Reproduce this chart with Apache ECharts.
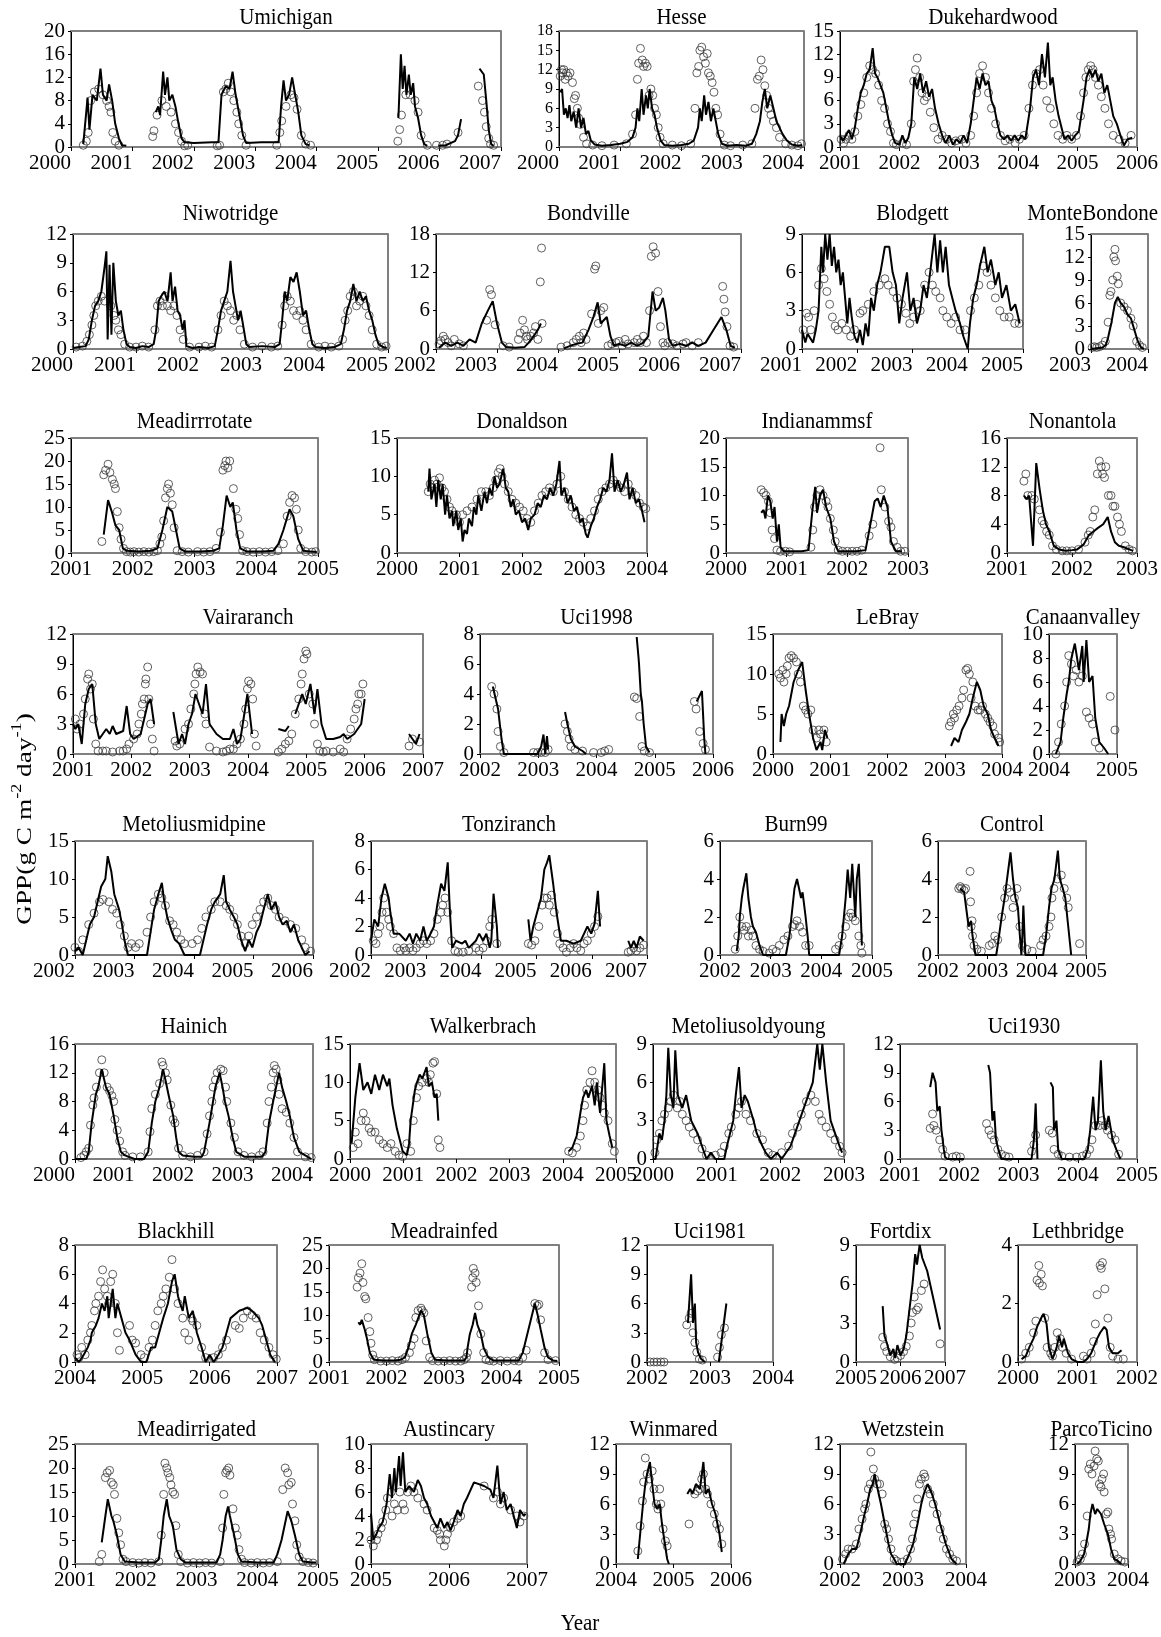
<!DOCTYPE html>
<html>
<head>
<meta charset="utf-8">
<script src="https://cdn.jsdelivr.net/npm/echarts@6/dist/echarts.min.js"></script>
<style>
  html, body { margin: 0; padding: 0; background: #fff; }
  #chart { width: 1161px; height: 1637px; }
</style>
</head>
<body>
<div id="chart"></div>
<script>
// ---- data: model line (xxxLine) and observed circles (xxxObs), [year, GPP] ----
var umichiganLine = [[2000.2,0.5],[2000.27,8.5],[2000.3,3],[2000.35,9],[2000.42,8],[2000.48,13.5],[2000.52,9],[2000.58,8],[2000.62,10.8],[2000.67,8],[2000.72,4],[2000.78,1.5],[2000.83,0.3],[2000.9,0.2],[2001.1,null],[2001.38,6],[2001.42,7],[2001.45,5.5],[2001.5,13],[2001.53,9],[2001.57,12],[2001.6,8],[2001.65,9],[2001.7,7],[2001.75,4],[2001.8,1.5],[2001.85,0.8],[2002.0,0.7],[2002.3,0.8],[2002.4,0.8],[2002.45,9],[2002.52,10.5],[2002.58,10],[2002.63,13],[2002.68,9],[2002.75,5],[2002.8,2],[2002.85,0.7],[2003.1,0.8],[2003.38,0.8],[2003.42,7],[2003.46,11.5],[2003.5,8],[2003.55,9],[2003.6,12],[2003.65,9],[2003.7,6],[2003.75,2],[2003.82,0.5],[2003.88,0.3],[2004.5,null],[2005.33,5],[2005.37,16],[2005.4,10],[2005.43,14],[2005.46,9],[2005.5,12.5],[2005.53,9],[2005.57,11],[2005.6,7],[2005.65,5],[2005.7,2],[2005.75,0.5],[2005.8,0.2],[2005.9,null],[2005.98,0.2],[2006.1,0.3],[2006.25,1],[2006.3,2],[2006.35,4.8],[2006.5,null],[2006.65,13.5],[2006.72,12.5],[2006.76,8],[2006.8,3],[2006.84,0.5],[2006.88,0.2]];
var umichiganObs = [[2000.2,0.3],[2000.25,1],[2000.28,2.5],[2000.32,8],[2000.38,9.5],[2000.45,10],[2000.52,9],[2000.58,8],[2000.62,7],[2000.65,6],[2000.68,2.5],[2000.72,1],[2000.78,0.3],[2001.33,1.8],[2001.35,2.8],[2001.4,5.5],[2001.48,8],[2001.55,7],[2001.63,6],[2001.7,4],[2001.75,2.5],[2001.8,1],[2001.85,0.2],[2001.9,0.3],[2002.38,0.2],[2002.42,0.3],[2002.48,9.5],[2002.52,10],[2002.56,11],[2002.6,9.5],[2002.65,8],[2002.7,6],[2002.73,4],[2002.78,2],[2002.85,0.3],[2003.35,0.3],[2003.4,2.5],[2003.43,4.5],[2003.5,7],[2003.58,9],[2003.63,8.5],[2003.68,6.5],[2003.75,2],[2003.82,0.5],[2003.9,0.3],[2005.32,1],[2005.35,3],[2005.38,5.5],[2005.45,9],[2005.52,9],[2005.6,8],[2005.65,6],[2005.7,2],[2005.8,0.3],[2005.95,0.3],[2006.05,0.3],[2006.12,0.5],[2006.3,2.5],[2006.63,10.5],[2006.7,8],[2006.73,6],[2006.76,3.5],[2006.8,1.5],[2006.83,0.5],[2006.88,0.3]];

var hesseLine = [[2000.02,8.5],[2000.05,9],[2000.08,5],[2000.11,6],[2000.14,4.5],[2000.17,6.5],[2000.2,4],[2000.24,5.5],[2000.28,3],[2000.32,6],[2000.36,3],[2000.4,4.5],[2000.44,2],[2000.48,2.5],[2000.52,1],[2000.58,0.4],[2000.7,0.2],[2000.85,0.3],[2001.0,0.5],[2001.12,0.8],[2001.2,1.5],[2001.25,3],[2001.28,6],[2001.31,4],[2001.35,9],[2001.38,5],[2001.42,8],[2001.45,6],[2001.48,9],[2001.52,6],[2001.56,5],[2001.6,3],[2001.66,1],[2001.72,0.3],[2001.85,0.2],[2002.0,0.3],[2002.12,0.5],[2002.2,1],[2002.27,3],[2002.3,6],[2002.33,4],[2002.37,8],[2002.4,5],[2002.44,7],[2002.48,4],[2002.52,6],[2002.56,4],[2002.6,2],[2002.66,0.5],[2002.75,0.2],[2002.9,0.3],[2003.05,0.2],[2003.15,0.5],[2003.22,2],[2003.28,4],[2003.32,7],[2003.36,9],[2003.4,6],[2003.45,8],[2003.5,6],[2003.55,4],[2003.6,3],[2003.65,2],[2003.72,1],[2003.8,0.4],[2003.9,0.2],[2003.97,0.3]];
var hesseObs = [[2000.02,11],[2000.04,12],[2000.06,11.5],[2000.08,12],[2000.1,10.5],[2000.12,11.5],[2000.15,11],[2000.18,11.5],[2000.22,10],[2000.25,7.5],[2000.27,8],[2000.3,6],[2000.32,4.5],[2000.35,3.5],[2000.4,1.5],[2000.45,0.5],[2000.55,0.3],[2000.7,0.2],[2000.9,0.3],[2001.1,0.5],[2001.2,2],[2001.25,5],[2001.28,10.5],[2001.3,13],[2001.33,15.3],[2001.36,13.5],[2001.38,12.5],[2001.41,13],[2001.44,12.5],[2001.47,8],[2001.5,9],[2001.53,8],[2001.56,6],[2001.59,5],[2001.62,3],[2001.65,1.5],[2001.7,0.5],[2001.85,0.3],[2002.0,0.2],[2002.15,0.5],[2002.22,6],[2002.25,11.5],[2002.28,12.5],[2002.3,15],[2002.33,15.5],[2002.36,14],[2002.39,13],[2002.42,14.5],[2002.44,11.5],[2002.47,11],[2002.5,10],[2002.53,8.5],[2002.56,6],[2002.59,5],[2002.63,2],[2002.7,0.3],[2002.8,0.2],[2003.0,0.3],[2003.15,0.5],[2003.2,6],[2003.24,10.5],[2003.27,11],[2003.3,13.5],[2003.33,12],[2003.36,9.5],[2003.39,8],[2003.42,6],[2003.46,5],[2003.5,4],[2003.55,3],[2003.6,1.5],[2003.7,0.5],[2003.8,0.3],[2003.9,0.2],[2003.96,0.5]];

var dukeLine = [[2001.0,1.5],[2001.05,0.8],[2001.1,1.5],[2001.15,2.2],[2001.2,1],[2001.25,2.5],[2001.3,5],[2001.35,7],[2001.4,8],[2001.45,9.5],[2001.5,10],[2001.55,12.8],[2001.59,9.5],[2001.63,9],[2001.68,8],[2001.73,7],[2001.78,5],[2001.83,3],[2001.88,1.5],[2001.93,0.5],[2002.0,0.3],[2002.05,1.5],[2002.1,0.5],[2002.15,1.2],[2002.2,3],[2002.25,9],[2002.3,7.5],[2002.35,9.5],[2002.4,7],[2002.45,8.5],[2002.5,6.5],[2002.55,7.5],[2002.6,5],[2002.66,3],[2002.72,1.5],[2002.78,0.5],[2002.84,1.5],[2002.9,0.3],[2002.96,1],[2003.02,0.5],[2003.08,1.5],[2003.14,0.5],[2003.2,3],[2003.25,6],[2003.3,9],[2003.35,7.5],[2003.4,9.5],[2003.45,8],[2003.5,8.5],[2003.55,6],[2003.6,5],[2003.65,3],[2003.7,1.5],[2003.76,1],[2003.82,1.5],[2003.88,0.8],[2003.94,1.5],[2004.0,0.8],[2004.06,1.5],[2004.12,1],[2004.2,5],[2004.25,9],[2004.3,10],[2004.35,8],[2004.4,12],[2004.45,9],[2004.5,13.5],[2004.54,8],[2004.58,9],[2004.63,6],[2004.68,4],[2004.73,2.5],[2004.78,1],[2004.84,1.5],[2004.9,0.8],[2004.96,1.5],[2005.02,2],[2005.1,6],[2005.15,9],[2005.2,10],[2005.25,9],[2005.3,10],[2005.35,8.5],[2005.4,9.5],[2005.45,7],[2005.5,8],[2005.55,6],[2005.6,4],[2005.66,3],[2005.72,1.5],[2005.78,0.2],[2005.84,1],[2005.92,1.2]];
var dukeObs = [[2001.02,1],[2001.06,0.5],[2001.1,1],[2001.15,1.5],[2001.2,1],[2001.25,2],[2001.3,4],[2001.35,5.5],[2001.4,7],[2001.45,9],[2001.5,10.5],[2001.55,10],[2001.6,9.5],[2001.65,8],[2001.7,6],[2001.75,5],[2001.8,3],[2001.85,2],[2001.9,0.5],[2001.95,0.3],[2002.05,0.5],[2002.12,0.3],[2002.2,3],[2002.24,8.5],[2002.27,10],[2002.3,11.5],[2002.34,9],[2002.38,7],[2002.42,6],[2002.46,6.5],[2002.52,4.5],[2002.58,2.5],[2002.65,1],[2002.72,1.5],[2002.8,1],[2002.88,0.5],[2002.95,0.8],[2003.05,1],[2003.12,0.5],[2003.2,1.5],[2003.25,4],[2003.3,7],[2003.35,9.5],[2003.4,10.5],[2003.45,9],[2003.5,7],[2003.55,5],[2003.62,3],[2003.7,1.5],[2003.78,0.8],[2003.86,1],[2003.95,0.5],[2004.02,1],[2004.1,1.5],[2004.18,5],[2004.24,8],[2004.3,9.5],[2004.36,10],[2004.42,8],[2004.48,6],[2004.54,5],[2004.6,3],[2004.67,1.5],[2004.75,1],[2004.82,1.5],[2004.9,1],[2004.98,1.5],[2005.05,4],[2005.1,7],[2005.14,9],[2005.18,10],[2005.22,10.5],[2005.26,10],[2005.3,9],[2005.35,8],[2005.4,6.5],[2005.46,5],[2005.52,3],[2005.6,1.5],[2005.7,1],[2005.8,0.5],[2005.9,1.5]];

var niwotLine = [[2000.0,0.1],[2000.1,0.2],[2000.2,0.3],[2000.25,1],[2000.3,3],[2000.35,4.5],[2000.4,5],[2000.45,6],[2000.5,8.5],[2000.53,10.2],[2000.55,1],[2000.58,8.8],[2000.61,1.5],[2000.64,9],[2000.68,5],[2000.72,3.5],[2000.76,4],[2000.8,2],[2000.85,0.5],[2000.9,0.2],[2001.0,0.1],[2001.1,0.3],[2001.2,0.2],[2001.28,0.5],[2001.32,2],[2001.36,5],[2001.4,5.5],[2001.45,6],[2001.5,5],[2001.55,8],[2001.58,5],[2001.62,6.5],[2001.66,4],[2001.7,3.5],[2001.74,2],[2001.77,3],[2001.8,0.3],[2001.9,0.1],[2002.0,0.2],[2002.15,0.1],[2002.25,0.3],[2002.3,2],[2002.35,4],[2002.4,5],[2002.45,6],[2002.5,9.2],[2002.54,6],[2002.58,4.5],[2002.62,3],[2002.66,4],[2002.7,2.5],[2002.75,0.5],[2002.8,0.2],[2003.0,0.3],[2003.2,0.2],[2003.28,0.5],[2003.32,3],[2003.36,6],[2003.4,5],[2003.45,7.5],[2003.5,7],[2003.55,8],[2003.6,6],[2003.65,3.5],[2003.7,4],[2003.75,2],[2003.8,0.5],[2003.85,0.2],[2004.0,0.1],[2004.15,0.2],[2004.25,0.5],[2004.3,2],[2004.35,4],[2004.4,5],[2004.45,6.8],[2004.5,5],[2004.55,6],[2004.6,5],[2004.65,5.5],[2004.7,4],[2004.75,3],[2004.8,1.5],[2004.85,0.5],[2004.92,0.2],[2004.98,0.1]];
var niwotObs = [[2000.05,0.2],[2000.15,0.3],[2000.22,0.8],[2000.26,1.5],[2000.3,2.5],[2000.33,3.5],[2000.36,4.5],[2000.4,5],[2000.45,5.5],[2000.5,5],[2000.6,4.5],[2000.65,3.5],[2000.68,3],[2000.72,2],[2000.76,1.5],[2000.82,0.5],[2000.9,0.2],[2001.0,0.2],[2001.1,0.3],[2001.2,0.2],[2001.3,2],[2001.34,4.5],[2001.38,5],[2001.42,4.5],[2001.46,5.5],[2001.5,4.5],[2001.55,4],[2001.6,4.5],[2001.65,3.5],[2001.7,2],[2001.75,1],[2001.85,0.2],[2002.0,0.2],[2002.1,0.3],[2002.2,0.2],[2002.3,2],[2002.35,3.5],[2002.4,5],[2002.45,4.5],[2002.5,4],[2002.55,3],[2002.6,3.5],[2002.65,2],[2002.72,0.5],[2002.85,0.2],[2003.0,0.3],[2003.15,0.2],[2003.25,0.3],[2003.32,2.5],[2003.36,4.5],[2003.4,5.5],[2003.45,5],[2003.5,4],[2003.55,3.5],[2003.6,4],[2003.65,3],[2003.7,2],[2003.78,0.5],[2003.9,0.2],[2004.0,0.3],[2004.1,0.2],[2004.22,0.3],[2004.28,1],[2004.32,3],[2004.36,4],[2004.4,5.5],[2004.45,6],[2004.5,4.5],[2004.55,5],[2004.6,5.5],[2004.65,4.5],[2004.7,3.5],[2004.75,2],[2004.82,0.5],[2004.9,0.2],[2004.97,0.3]];

var bondvilleLine = [[2002.05,0.2],[2002.15,1],[2002.25,0.5],[2002.35,1],[2002.45,0.5],[2002.55,1.5],[2002.65,1],[2002.75,4],[2002.85,6],[2002.93,7.5],[2003.0,4],[2003.08,1],[2003.15,0.3],[2003.3,0.2],[2003.45,0.3],[2003.52,1],[2003.6,2],[2003.67,3],[2003.72,4],[2003.9,null],[2004.1,0.1],[2004.2,0.5],[2004.3,0.8],[2004.4,1],[2004.5,3],[2004.58,5],[2004.65,7.3],[2004.7,4],[2004.75,4.5],[2004.8,5],[2004.86,2],[2004.92,0.5],[2005.0,0.8],[2005.1,0.5],[2005.2,1],[2005.3,0.5],[2005.4,1],[2005.48,2],[2005.55,9],[2005.6,6],[2005.66,6.5],[2005.72,8],[2005.76,6],[2005.82,1.5],[2005.88,0.5],[2006.0,0.8],[2006.1,0.5],[2006.2,1],[2006.3,0.5],[2006.42,1],[2006.55,3],[2006.68,5],[2006.76,3],[2006.83,0.5],[2006.9,0.2]];
var bondvilleObs = [[2002.05,0.8],[2002.08,1.3],[2002.12,2],[2002.15,1.5],[2002.2,1],[2002.25,0.5],[2002.3,1.5],[2002.38,0.8],[2002.45,0.5],[2002.83,4.5],[2002.88,9.3],[2002.91,8.5],[2002.97,3.8],[2003.1,0.5],[2003.2,0.3],[2003.35,1.5],[2003.38,2.5],[2003.42,4.5],[2003.45,3],[2003.48,2],[2003.5,1.5],[2003.55,2],[2003.6,2.5],[2003.63,3.5],[2003.67,1.5],[2003.71,10.5],[2003.73,15.8],[2003.74,4],[2004.05,0.3],[2004.15,0.5],[2004.25,1],[2004.3,1.5],[2004.35,2],[2004.38,1],[2004.42,2.5],[2004.46,1.5],[2004.55,5.5],[2004.6,12.5],[2004.62,13],[2004.66,4],[2004.7,6],[2004.75,6.5],[2004.82,0.5],[2004.88,0.8],[2004.95,1],[2005.0,1.2],[2005.05,0.5],[2005.1,1.5],[2005.15,0.8],[2005.25,1],[2005.3,1.5],[2005.35,1],[2005.4,2],[2005.45,1],[2005.5,6],[2005.53,14.5],[2005.56,16],[2005.6,15],[2005.64,9],[2005.68,3.5],[2005.72,1],[2005.75,0.5],[2005.8,1],[2005.88,0.8],[2005.95,0.5],[2006.05,0.8],[2006.1,1],[2006.2,0.5],[2006.3,1],[2006.7,9.8],[2006.72,7.8],[2006.74,5.8],[2006.77,3.5],[2006.82,0.5],[2006.88,0.3]];

var blodgettLine = [[2001.0,1.5],[2001.06,0.5],[2001.1,1.2],[2001.2,0.5],[2001.25,1.5],[2001.3,3],[2001.35,8],[2001.38,6],[2001.42,9],[2001.46,7],[2001.5,9],[2001.54,6.5],[2001.58,8],[2001.62,6],[2001.66,7],[2001.7,5],[2001.74,6],[2001.78,4],[2001.82,2],[2001.86,4],[2001.9,2.5],[2001.95,1],[2002.0,0.5],[2002.05,1.5],[2002.1,0.3],[2002.15,2],[2002.2,1],[2002.25,4],[2002.3,3],[2002.36,5],[2002.42,6],[2002.5,8],[2002.58,8],[2002.64,6],[2002.7,5],[2002.76,2],[2002.82,4],[2002.9,6],[2002.96,3],[2003.02,4],[2003.08,2],[2003.14,3],[2003.2,5],[2003.26,4],[2003.32,6],[2003.4,9],[2003.45,6],[2003.5,8.5],[2003.55,6],[2003.6,8],[2003.66,5],[2003.72,4],[2003.78,3],[2003.86,2],[2003.92,1],[2004.0,0],[2004.04,2],[2004.1,4],[2004.16,5],[2004.22,6.5],[2004.3,8],[2004.36,6],[2004.42,7],[2004.5,5],[2004.56,6],[2004.62,4],[2004.7,5],[2004.78,3],[2004.86,3.5],[2004.94,2]];
var blodgettObs = [[2001.02,1.5],[2001.08,2.8],[2001.12,2.5],[2001.16,1.5],[2001.22,3],[2001.3,5],[2001.35,6.3],[2001.4,5.5],[2001.45,4.5],[2001.5,3.5],[2001.55,2.5],[2001.6,1.8],[2001.65,1.5],[2001.72,2],[2001.8,1.5],[2001.88,1],[2001.95,1.5],[2002.05,2.8],[2002.1,3],[2002.2,3.5],[2002.3,4.5],[2002.4,5],[2002.5,5.5],[2002.56,5],[2002.65,4.5],[2002.72,4],[2002.8,3.5],[2002.88,2.8],[2002.95,2],[2003.02,2.5],[2003.08,3.5],[2003.14,3],[2003.22,5],[2003.3,6],[2003.36,5],[2003.42,4.5],[2003.5,4],[2003.55,3],[2003.62,2.5],[2003.7,2],[2003.78,2.5],[2003.86,1.5],[2003.95,1.5],[2004.05,3],[2004.12,4],[2004.2,5],[2004.28,6.5],[2004.35,6],[2004.42,5],[2004.5,4],[2004.58,3],[2004.66,2.5],[2004.75,2.5],[2004.85,2],[2004.93,2]];

var monteLine = [[2003.0,0],[2003.1,0.1],[2003.2,0.2],[2003.26,0.5],[2003.3,1.5],[2003.36,3.5],[2003.42,6],[2003.47,6.8],[2003.52,6],[2003.58,5.5],[2003.64,4.5],[2003.7,4],[2003.76,2.5],[2003.82,1],[2003.88,0.2],[2003.93,0]];
var monteObs = [[2003.02,0.2],[2003.06,0.3],[2003.1,0.2],[2003.15,0.3],[2003.2,0.5],[2003.25,1],[2003.3,3.5],[2003.33,7],[2003.35,7.5],[2003.38,9],[2003.4,12],[2003.42,13],[2003.43,11.5],[2003.46,9.5],[2003.48,8.5],[2003.52,6],[2003.58,5.5],[2003.64,5],[2003.7,4],[2003.74,3],[2003.8,1],[2003.85,0.5],[2003.9,0.2]];

var rotateLine = [[2001.53,4],[2001.6,11.5],[2001.66,9],[2001.72,6],[2001.78,5],[2001.84,1],[2001.9,0.5],[2002.1,0.3],[2002.3,0.5],[2002.4,1],[2002.48,5],[2002.56,10],[2002.64,9],[2002.7,5],[2002.76,1],[2002.85,0.3],[2003.1,0.3],[2003.3,0.5],[2003.4,1],[2003.46,6],[2003.52,12.5],[2003.58,10],[2003.62,11],[2003.68,5],[2003.74,1],[2003.85,0.3],[2004.1,0.3],[2004.28,0.5],[2004.36,2],[2004.44,5],[2004.54,9.5],[2004.6,8],[2004.68,3],[2004.76,0.5],[2004.9,0.3],[2004.98,0.2]];
var rotateObs = [[2001.5,2.5],[2001.53,17],[2001.56,18],[2001.6,19.3],[2001.63,17.5],[2001.67,16],[2001.7,15],[2001.72,14],[2001.75,9],[2001.78,5.5],[2001.81,3],[2001.85,1],[2001.9,0.3],[2001.96,0.2],[2002.02,0.3],[2002.1,0.2],[2002.18,0.3],[2002.26,0.2],[2002.34,0.3],[2002.4,0.5],[2002.44,2],[2002.47,3.5],[2002.5,7],[2002.53,12],[2002.56,14],[2002.58,15],[2002.61,13],[2002.64,10.5],[2002.67,5.5],[2002.72,0.5],[2002.8,0.3],[2002.9,0.2],[2003.05,0.3],[2003.15,0.2],[2003.25,0.3],[2003.35,1],[2003.42,4.5],[2003.46,18],[2003.49,19],[2003.51,20],[2003.54,18.5],[2003.57,20],[2003.63,14],[2003.67,9.5],[2003.7,7.5],[2003.73,4],[2003.78,0.5],[2003.85,0.3],[2003.95,0.2],[2004.05,0.3],[2004.15,0.2],[2004.25,0.3],[2004.35,0.5],[2004.44,2],[2004.5,8],[2004.54,11],[2004.58,12.5],[2004.62,12],[2004.65,9.5],[2004.68,5],[2004.72,1],[2004.8,0.3],[2004.9,0.2],[2004.96,0.3]];

var donaldsonLine = [[2000.5,8],[2000.52,11],[2000.55,7],[2000.6,9],[2000.63,6],[2000.66,9.5],[2000.7,7],[2000.73,9],[2000.77,5],[2000.8,7.5],[2000.84,4.5],[2000.88,5.5],[2000.9,3.5],[2000.95,5.5],[2000.98,3],[2001.02,4.5],[2001.05,1.5],[2001.08,3],[2001.12,2.5],[2001.15,4.5],[2001.2,3.5],[2001.23,6],[2001.27,5],[2001.3,7.5],[2001.35,5.5],[2001.4,8],[2001.44,6.5],[2001.48,8.5],[2001.52,7.5],[2001.56,10],[2001.6,8.5],[2001.64,9],[2001.7,11],[2001.74,8.5],[2001.78,8],[2001.82,6],[2001.86,7],[2001.9,5],[2001.95,5.5],[2002.0,4],[2002.05,4.5],[2002.1,3],[2002.14,4.5],[2002.2,5],[2002.25,6.5],[2002.3,6],[2002.35,7.5],[2002.4,7],[2002.45,8.5],[2002.5,7.5],[2002.55,9],[2002.6,12],[2002.63,7.5],[2002.68,8.5],[2002.73,6.5],[2002.78,7.5],[2002.83,5.5],[2002.88,6],[2002.93,4],[2002.97,4.5],[2003.02,2.5],[2003.05,2],[2003.1,3.5],[2003.15,4.5],[2003.2,6],[2003.25,7],[2003.3,8.5],[2003.35,8],[2003.4,9.5],[2003.44,13],[2003.48,8],[2003.53,9.5],[2003.58,8],[2003.63,9],[2003.68,10.5],[2003.72,7],[2003.77,8.5],[2003.82,6.5],[2003.87,7],[2003.92,5.5],[2003.96,4]];
var donaldsonObs = [[2000.5,8],[2000.53,9],[2000.56,8.5],[2000.6,9.5],[2000.64,9],[2000.68,9.8],[2000.72,8.5],[2000.76,8],[2000.8,7],[2000.84,6],[2000.88,5.5],[2000.95,5],[2001.0,4],[2001.05,5],[2001.12,5.5],[2001.2,6],[2001.28,7],[2001.35,8],[2001.42,8],[2001.48,7.5],[2001.54,8.5],[2001.58,9.5],[2001.62,10.5],[2001.65,11],[2001.68,10],[2001.72,9],[2001.78,8],[2001.84,7],[2001.9,6.5],[2001.96,6],[2002.02,5.5],[2002.08,4.5],[2002.14,4],[2002.2,5.5],[2002.26,6.5],[2002.32,7.5],[2002.38,8],[2002.44,8.5],[2002.5,8],[2002.56,9],[2002.62,10],[2002.68,8],[2002.74,7],[2002.8,6],[2002.86,5],[2002.92,4.5],[2002.98,4],[2003.04,3.5],[2003.1,4.5],[2003.16,5.5],[2003.22,7],[2003.28,8],[2003.34,8.5],[2003.4,9],[2003.46,9.5],[2003.52,9],[2003.58,8.5],[2003.64,8],[2003.7,9],[2003.76,8],[2003.82,7.5],[2003.88,6.5],[2003.94,6],[2003.98,5.8]];

var indianaLine = [[2000.58,7],[2000.62,7.5],[2000.65,6],[2000.69,10],[2000.73,9],[2000.77,6],[2000.8,8],[2000.84,2],[2000.87,5],[2000.9,1],[2000.95,0.3],[2001.1,0.3],[2001.25,0.3],[2001.36,0.5],[2001.42,7],[2001.47,11.5],[2001.5,7],[2001.55,10],[2001.6,11],[2001.65,8],[2001.72,6],[2001.78,2],[2001.85,0.3],[2002.0,0.3],[2002.15,0.3],[2002.3,0.5],[2002.38,5],[2002.45,9],[2002.5,9.5],[2002.55,8],[2002.6,10],[2002.66,8],[2002.72,2],[2002.8,0.3],[2002.9,0.3]];
var indianaObs = [[2000.58,11],[2000.62,10.5],[2000.66,10],[2000.7,9],[2000.73,7],[2000.76,4],[2000.8,2.5],[2000.84,0.5],[2000.9,0.3],[2000.98,0.3],[2001.05,0.2],[2001.4,1],[2001.43,4],[2001.46,8],[2001.5,10],[2001.55,11],[2001.6,10],[2001.65,9],[2001.68,8],[2001.72,6],[2001.77,4],[2001.8,2],[2001.85,0.5],[2001.92,0.3],[2002.0,0.3],[2002.08,0.3],[2002.16,0.3],[2002.24,0.5],[2002.36,3],[2002.42,5],[2002.54,18.3],[2002.56,11],[2002.62,8],[2002.68,5.5],[2002.72,4.5],[2002.76,2],[2002.82,1],[2002.88,0.3],[2002.95,0.3]];

var nonantolaLine = [[2001.26,8],[2001.3,7.5],[2001.34,8],[2001.4,1],[2001.45,12.5],[2001.5,9],[2001.55,6],[2001.6,4],[2001.65,3],[2001.72,1],[2001.8,0.5],[2001.9,0.3],[2002.0,0.4],[2002.08,0.5],[2002.18,1.2],[2002.26,2.5],[2002.33,3],[2002.4,3.5],[2002.48,4],[2002.55,5],[2002.6,3],[2002.66,1.5],[2002.72,1],[2002.8,0.8],[2002.88,0.5],[2002.94,0.3]];
var nonantolaObs = [[2001.26,10],[2001.29,11],[2001.32,8],[2001.38,8],[2001.42,7.5],[2001.5,6],[2001.54,4.5],[2001.57,4],[2001.61,3],[2001.65,2.5],[2001.7,1],[2001.76,0.5],[2001.85,0.3],[2001.92,0.3],[2002.0,0.3],[2002.1,0.5],[2002.2,1.5],[2002.25,2.5],[2002.28,3],[2002.32,5],[2002.35,6],[2002.39,11],[2002.42,12.8],[2002.45,12],[2002.47,11],[2002.5,10.5],[2002.52,12],[2002.56,8],[2002.6,8],[2002.63,6.5],[2002.66,6.5],[2002.7,5],[2002.73,4],[2002.76,3],[2002.82,1],[2002.88,0.5],[2002.93,0.3]];

var vairaLine = [[2001.0,3],[2001.04,2.5],[2001.09,3],[2001.15,1],[2001.21,5],[2001.27,6.5],[2001.33,7],[2001.39,3],[2001.45,1.5],[2001.51,2],[2001.57,2.5],[2001.63,2],[2001.68,2.8],[2001.74,2],[2001.86,2.3],[2001.92,4.8],[2001.98,2],[2002.04,1.5],[2002.16,2],[2002.28,5],[2002.33,5.5],[2002.39,3],[2002.55,null],[2002.72,4.2],[2002.81,1],[2002.87,2],[2002.92,1],[2002.98,3],[2003.04,4],[2003.1,6],[2003.16,5],[2003.22,4],[2003.28,7],[2003.34,3],[2003.46,2],[2003.57,1.5],[2003.69,1.5],[2003.75,2.5],[2003.81,1],[2003.87,1.5],[2003.99,6],[2004.07,2],[2004.3,null],[2004.52,2.5],[2004.64,2.3],[2004.7,2.8],[2004.75,null],[2004.81,4],[2004.93,6],[2004.99,5],[2005.07,7],[2005.14,4],[2005.19,6.5],[2005.26,3],[2005.34,1.5],[2005.46,1.5],[2005.58,1.7],[2005.64,2],[2005.7,1.5],[2005.82,2],[2005.94,3],[2006.0,5.5],[2006.4,null],[2006.76,2],[2006.82,1.5],[2006.88,1],[2006.94,2]];
var vairaObs = [[2001.04,3.5],[2001.07,2.5],[2001.12,3],[2001.18,4],[2001.21,5.5],[2001.25,7.5],[2001.27,8],[2001.3,6.5],[2001.33,7],[2001.35,3.5],[2001.39,1],[2001.43,0.3],[2001.51,0.3],[2001.57,0.3],[2001.68,0.2],[2001.8,0.3],[2001.86,0.3],[2001.92,0.5],[2001.96,1],[2002.04,1.5],[2002.1,2],[2002.13,3],[2002.17,4],[2002.19,5],[2002.22,5.5],[2002.24,7],[2002.25,7.5],[2002.28,8.7],[2002.3,5.5],[2002.33,3],[2002.36,1.5],[2002.39,0.3],[2002.75,1.3],[2002.78,0.8],[2002.83,1],[2002.92,2.5],[2002.98,3],[2003.02,4.5],[2003.07,6],[2003.09,7],[2003.11,8],[2003.14,8.7],[2003.18,8.2],[2003.22,8],[2003.26,4],[2003.28,3],[2003.34,0.7],[2003.46,0.3],[2003.57,0.2],[2003.63,0.3],[2003.69,0.5],[2003.75,0.5],[2003.81,1],[2003.87,1.5],[2003.93,3],[2003.96,4.5],[2003.99,6.5],[2004.01,7.3],[2004.05,7],[2004.08,5.5],[2004.11,2],[2004.14,0.8],[2004.52,0.2],[2004.58,0.5],[2004.64,1],[2004.7,1.3],[2004.75,2],[2004.81,4],[2004.87,5.5],[2004.91,7],[2004.93,8],[2004.96,9.5],[2004.99,10.3],[2005.01,10],[2005.05,6],[2005.11,5],[2005.14,3],[2005.19,1],[2005.23,0.3],[2005.29,0.2],[2005.34,0.3],[2005.46,0.2],[2005.58,0.5],[2005.64,0.2],[2005.7,1.5],[2005.76,2.5],[2005.82,3.5],[2005.85,4.5],[2005.88,5],[2005.9,6],[2005.94,6],[2005.97,7],[2006.76,0.8],[2006.82,1.5],[2006.94,1.2]];

var uci1998Line = [[2002.22,4.5],[2002.31,3],[2002.37,1],[2002.41,0],[2002.6,0],[2002.8,0],[2002.99,0],[2003.05,0.5],[2003.09,1.3],[2003.12,0],[2003.15,1.2],[2003.17,0.3],[2003.3,null],[2003.46,2.8],[2003.5,2],[2003.56,1],[2003.63,0.5],[2003.76,0.2],[2003.82,0],[2004.2,null],[2004.69,7.8],[2004.72,6.5],[2004.73,6],[2004.76,4],[2004.78,3.5],[2004.81,2],[2004.85,0.5],[2004.91,0.1],[2005.3,null],[2005.72,3.5],[2005.81,4.2],[2005.85,1],[2005.87,0]];
var uci1998Obs = [[2002.2,4.5],[2002.24,4],[2002.29,3],[2002.31,1.5],[2002.35,0.5],[2002.41,0.1],[2002.92,0.1],[2002.99,0.1],[2003.05,0.1],[2003.12,0.1],[2003.17,0.3],[2003.46,2],[2003.5,1.5],[2003.53,1],[2003.56,0.5],[2003.63,0.3],[2003.76,0.2],[2003.95,0.1],[2004.08,0.1],[2004.14,0.2],[2004.21,0.3],[2004.65,3.8],[2004.69,3.7],[2004.74,2.5],[2004.78,0.5],[2004.82,0.2],[2004.91,0.1],[2005.68,3.5],[2005.71,3],[2005.77,1.5],[2005.83,0.7],[2005.87,0.3]];

var lebrayLine = [[2000.13,1.5],[2000.15,5],[2000.19,3.5],[2000.23,5],[2000.28,6],[2000.36,9],[2000.44,10.5],[2000.51,11.5],[2000.57,8],[2000.63,5],[2000.7,2],[2000.76,0.5],[2000.83,1.5],[2000.86,0.5],[2000.91,3],[2000.95,2],[2002.0,null],[2003.11,1],[2003.17,2],[2003.24,1.5],[2003.3,3],[2003.37,4],[2003.43,5],[2003.49,7],[2003.56,9],[2003.62,8],[2003.68,6],[2003.75,5],[2003.81,3],[2003.87,2],[2003.94,1]];
var lebrayObs = [[2000.1,10],[2000.13,9.5],[2000.17,10.5],[2000.19,9],[2000.23,10],[2000.25,11],[2000.28,12],[2000.32,12.3],[2000.36,12],[2000.41,11.5],[2000.44,10],[2000.48,9],[2000.53,6],[2000.57,5.5],[2000.61,5],[2000.66,5.5],[2000.7,3],[2000.76,2],[2000.8,3],[2000.83,2.5],[2000.89,3],[2000.93,1.5],[2003.08,3.5],[2003.11,4],[2003.15,5],[2003.17,4.5],[2003.21,5.5],[2003.25,6],[2003.3,7],[2003.33,8],[2003.37,10.5],[2003.4,10.7],[2003.43,10],[2003.46,7],[2003.49,9],[2003.53,6],[2003.58,5.5],[2003.62,5.5],[2003.66,6],[2003.71,5],[2003.75,4.5],[2003.79,4],[2003.84,3.5],[2003.87,2.5],[2003.94,2],[2003.96,1.5]];

var canaanLine = [[2004.1,0],[2004.17,1],[2004.21,3],[2004.26,5],[2004.29,6],[2004.33,8],[2004.38,9.2],[2004.44,7],[2004.49,9],[2004.51,6],[2004.55,9.5],[2004.59,6],[2004.64,6.5],[2004.68,3],[2004.74,1],[2004.81,0.5],[2004.87,0]];
var canaanObs = [[2004.1,0],[2004.14,1],[2004.18,2.5],[2004.23,4],[2004.26,6],[2004.29,8.2],[2004.33,7.5],[2004.36,6.5],[2004.4,7],[2004.44,6],[2004.49,6.5],[2004.55,3.5],[2004.59,3],[2004.64,2.5],[2004.68,1],[2004.74,0.5],[2004.9,4.8],[2004.97,2]];

var midpineLine = [[2002.0,0.5],[2002.06,1],[2002.13,0],[2002.19,2],[2002.25,4],[2002.32,5],[2002.38,7],[2002.44,9],[2002.51,10],[2002.55,13],[2002.61,11],[2002.66,8],[2002.74,6],[2002.79,4],[2002.83,2],[2002.89,0],[2003.05,0],[2003.21,0],[2003.27,3],[2003.33,6],[2003.4,8],[2003.46,9.5],[2003.5,7],[2003.55,5],[2003.63,3],[2003.68,2],[2003.75,1.5],[2003.84,0],[2003.97,0],[2004.1,0],[2004.16,2],[2004.22,4],[2004.29,6],[2004.35,7],[2004.44,8],[2004.5,10.5],[2004.54,7],[2004.6,6],[2004.67,5],[2004.73,4],[2004.79,2],[2004.86,0.5],[2004.92,2],[2004.98,1],[2005.05,3],[2005.11,4],[2005.17,6],[2005.24,8],[2005.3,6],[2005.37,7],[2005.43,5],[2005.49,4],[2005.56,4.5],[2005.62,3],[2005.68,4],[2005.75,2],[2005.81,1],[2005.87,0],[2005.94,0.5]];
var midpineObs = [[2002.0,1],[2002.06,0.5],[2002.13,2],[2002.23,4],[2002.32,5.5],[2002.41,7],[2002.47,7.3],[2002.57,7],[2002.63,6],[2002.7,5.5],[2002.76,4],[2002.83,2.5],[2002.89,1],[2002.95,1.5],[2003.02,1],[2003.08,1.5],[2003.21,3],[2003.27,5],[2003.33,7],[2003.4,8],[2003.46,7.5],[2003.52,6.5],[2003.59,4.5],[2003.65,4],[2003.71,3],[2003.78,2],[2003.84,1.5],[2003.97,1.5],[2004.06,2],[2004.13,3.5],[2004.2,5],[2004.29,6],[2004.35,7],[2004.44,7],[2004.54,6.5],[2004.6,6],[2004.67,5],[2004.73,4],[2004.79,2.5],[2004.86,1.5],[2004.92,2.5],[2004.98,4],[2005.05,5],[2005.11,6],[2005.17,7],[2005.24,7.5],[2005.3,6.5],[2005.37,6],[2005.43,5],[2005.53,4.5],[2005.62,4],[2005.71,3.5],[2005.81,2],[2005.87,1],[2005.96,0.5]];

var tonziLine = [[2002.0,1],[2002.06,2.5],[2002.13,2],[2002.19,4],[2002.25,5],[2002.32,4],[2002.35,3],[2002.41,1.5],[2002.51,1.5],[2002.63,1],[2002.7,1.5],[2002.76,0.8],[2002.82,1.5],[2002.89,1],[2002.95,2],[2003.01,1],[2003.08,1.5],[2003.14,2],[2003.2,3.5],[2003.27,5],[2003.33,4.5],[2003.39,6.5],[2003.43,3],[2003.47,0.5],[2003.54,1],[2003.65,0.8],[2003.71,1],[2003.77,0.5],[2003.9,1],[2003.96,1.5],[2004.03,1],[2004.09,1.5],[2004.15,0.5],[2004.18,1],[2004.22,4.3],[2004.28,2],[2004.3,0.5],[2004.55,null],[2004.85,2.5],[2004.89,1],[2004.94,2],[2005.01,3],[2005.08,4],[2005.14,6],[2005.19,6.5],[2005.23,7],[2005.3,5],[2005.36,3],[2005.44,1],[2005.54,1],[2005.67,0.8],[2005.8,1],[2005.86,1.5],[2005.92,2],[2005.99,1.5],[2006.05,2.2],[2006.11,4.5],[2006.15,2],[2006.4,null],[2006.66,1],[2006.71,0.5],[2006.76,1],[2006.81,0.5],[2006.87,1.3],[2006.94,1]];
var tonziObs = [[2002.04,1],[2002.09,0.8],[2002.13,1.5],[2002.16,2],[2002.2,3],[2002.23,4],[2002.28,3],[2002.32,2.5],[2002.35,2],[2002.41,1.5],[2002.47,0.5],[2002.53,0.3],[2002.6,0.5],[2002.63,0.3],[2002.7,0.5],[2002.76,0.3],[2002.82,0.5],[2002.89,0.8],[2002.95,1],[2003.01,0.8],[2003.08,1],[2003.14,1.5],[2003.2,2.5],[2003.27,3],[2003.3,3.5],[2003.34,4],[2003.39,3],[2003.46,1],[2003.52,0.3],[2003.58,0.2],[2003.67,0.2],[2003.77,0.3],[2003.9,0.5],[2003.96,0.3],[2004.03,0.5],[2004.09,1],[2004.15,2],[2004.19,2.5],[2004.28,0.8],[2004.85,0.8],[2004.91,0.7],[2004.97,1],[2005.04,2],[2005.1,3.5],[2005.14,4],[2005.19,4],[2005.23,3.5],[2005.27,4.2],[2005.32,3],[2005.38,1.5],[2005.42,0.8],[2005.48,0.5],[2005.54,0.2],[2005.61,0.5],[2005.67,0.8],[2005.73,0.5],[2005.8,0.3],[2005.86,0.8],[2005.92,1],[2005.99,1.5],[2006.05,2],[2006.11,2.7],[2006.66,0.2],[2006.71,0.3],[2006.76,0.5],[2006.81,0.3],[2006.87,0.5],[2006.94,0.7]];

var burn99Line = [[2002.33,0.2],[2002.37,1],[2002.39,2],[2002.43,3],[2002.46,3.5],[2002.52,4.3],[2002.56,3],[2002.61,2],[2002.65,1.5],[2002.71,1.2],[2002.78,0.5],[2002.85,0],[2003.1,0],[2003.3,0],[2003.37,1],[2003.41,2],[2003.47,3.5],[2003.52,4],[2003.6,3],[2003.63,3.3],[2003.69,2],[2003.73,1],[2003.76,0],[2004.0,0],[2004.35,0],[2004.41,1],[2004.48,3],[2004.52,4.5],[2004.57,3],[2004.61,4.8],[2004.67,2],[2004.7,4],[2004.74,4.8],[2004.78,2],[2004.8,0.5]];
var burn99Obs = [[2002.3,0.3],[2002.35,1],[2002.39,2],[2002.43,1.5],[2002.48,1.3],[2002.52,1.5],[2002.56,1],[2002.61,1.3],[2002.65,1],[2002.71,0.5],[2002.78,0.3],[2002.85,0.2],[2002.97,0.1],[2003.04,0.3],[2003.11,0.2],[2003.17,0.5],[2003.26,0.8],[2003.34,1],[2003.43,1.5],[2003.47,1.6],[2003.52,1.8],[2003.57,1.5],[2003.63,1.2],[2003.69,0.5],[2003.76,0.5],[2004.28,0.3],[2004.35,0.5],[2004.41,1],[2004.48,1.5],[2004.54,2],[2004.58,2.2],[2004.62,2],[2004.67,1.8],[2004.74,1],[2004.78,0.5],[2004.8,0.1]];

var controlLine = [[2002.45,3.5],[2002.53,3.3],[2002.62,1.5],[2002.67,1.8],[2002.7,1],[2002.73,0.5],[2002.76,0],[2003.0,0],[2003.18,0],[2003.21,0.5],[2003.29,2],[2003.35,3],[2003.4,4],[2003.47,5.4],[2003.52,4],[2003.57,3],[2003.62,2.5],[2003.66,1],[2003.69,0],[2003.71,1],[2003.73,2.6],[2003.77,0],[2004.0,0],[2004.13,0],[2004.19,1],[2004.25,2.5],[2004.3,3.5],[2004.36,4],[2004.43,5.5],[2004.47,4],[2004.53,3.5],[2004.58,3],[2004.64,1.5],[2004.7,0]];
var controlObs = [[2002.42,3.5],[2002.45,3.6],[2002.48,3.5],[2002.53,3.4],[2002.56,3.5],[2002.65,4.4],[2002.66,2.8],[2002.67,1.5],[2002.69,1.8],[2002.7,1],[2002.73,0.5],[2002.79,0.3],[2002.88,0.2],[2003.04,0.5],[2003.1,0.6],[2003.15,1],[2003.21,0.8],[2003.29,2],[2003.35,3],[2003.4,3.5],[2003.46,3.3],[2003.52,2.5],[2003.55,3],[2003.6,3.5],[2003.66,1.5],[2003.71,0.5],[2003.8,0.3],[2003.91,0.2],[2004.08,0.5],[2004.13,0.8],[2004.19,1],[2004.25,1.5],[2004.29,2],[2004.31,3],[2004.35,3.5],[2004.42,4],[2004.5,4.2],[2004.56,3.5],[2004.61,3],[2004.64,2.5],[2004.87,0.6]];

var hainichLine = [[2000.0,0],[2000.19,0],[2000.23,1],[2000.28,5],[2000.35,9],[2000.39,10],[2000.45,12.5],[2000.52,10],[2000.58,9],[2000.65,6],[2000.71,3],[2000.77,1],[2000.84,0.5],[2001.0,0],[2001.16,0],[2001.23,1],[2001.29,5],[2001.35,8],[2001.42,10],[2001.48,12.5],[2001.52,11],[2001.57,9],[2001.65,6],[2001.7,3],[2001.74,1],[2001.81,0.5],[2002.0,0.3],[2002.13,0.3],[2002.17,1],[2002.26,5],[2002.32,8],[2002.36,10],[2002.43,12],[2002.48,10],[2002.52,8],[2002.58,6],[2002.65,3],[2002.71,1],[2002.85,0.3],[2003.03,0.3],[2003.14,0.3],[2003.2,1],[2003.26,5],[2003.33,8],[2003.38,10],[2003.43,12],[2003.48,10],[2003.55,8],[2003.61,6],[2003.68,3],[2003.77,1],[2003.87,0.5],[2003.97,0]];
var hainichObs = [[2000.1,0.2],[2000.15,0.5],[2000.19,1],[2000.23,1.5],[2000.26,4.7],[2000.3,7.5],[2000.32,8.5],[2000.36,10],[2000.41,12],[2000.45,13.8],[2000.49,12],[2000.54,10],[2000.58,9.5],[2000.62,8.8],[2000.65,8],[2000.67,5.5],[2000.71,4],[2000.75,2.5],[2000.8,1],[2000.84,0.5],[2000.97,0.3],[2001.1,0.3],[2001.23,1],[2001.26,3.8],[2001.29,7],[2001.35,9],[2001.42,10.5],[2001.46,13.5],[2001.48,13],[2001.52,12],[2001.55,11],[2001.61,7.5],[2001.65,5.5],[2001.68,5],[2001.74,1.5],[2001.81,0.5],[2001.94,0.3],[2002.06,0.5],[2002.17,1],[2002.22,3.5],[2002.26,6],[2002.3,8],[2002.32,10],[2002.36,11],[2002.39,12],[2002.45,12.5],[2002.49,12.3],[2002.53,10],[2002.55,8],[2002.62,5],[2002.68,3],[2002.74,1],[2002.84,0.5],[2002.97,0.3],[2003.1,0.5],[2003.16,1],[2003.23,5],[2003.26,8],[2003.3,10],[2003.33,12],[2003.35,13],[2003.38,12.5],[2003.41,11],[2003.43,9],[2003.48,7],[2003.55,6.5],[2003.61,5],[2003.68,3],[2003.74,1],[2003.87,0.3],[2003.97,0.2]];

var walkerLine = [[2000.03,2],[2000.1,8],[2000.18,12.5],[2000.25,9],[2000.33,10],[2000.4,8.5],[2000.47,11],[2000.55,9],[2000.62,11],[2000.7,9.5],[2000.74,10.5],[2000.8,7],[2000.88,4],[2000.99,1],[2001.07,0.5],[2001.11,2],[2001.14,5],[2001.22,9],[2001.26,10],[2001.31,11],[2001.36,10.5],[2001.44,12],[2001.48,9.5],[2001.54,10],[2001.59,8],[2001.63,8.5],[2001.66,5],[2002.5,null],[2004.11,1],[2004.18,1.5],[2004.26,3],[2004.33,6],[2004.38,8],[2004.44,9],[2004.48,8],[2004.55,9.5],[2004.6,7],[2004.64,10],[2004.7,6],[2004.78,12.5],[2004.82,5],[2004.88,3],[2004.93,1.5]];
var walkerObs = [[2000.06,1.5],[2000.1,3.5],[2000.15,2],[2000.21,5],[2000.25,6],[2000.3,5],[2000.36,4],[2000.4,3.5],[2000.47,3.5],[2000.55,2.5],[2000.62,2],[2000.7,1.5],[2000.77,2],[2000.85,1],[2000.92,0.5],[2000.99,0.3],[2001.07,2],[2001.14,1],[2001.19,5],[2001.25,8],[2001.29,9.5],[2001.36,10],[2001.44,10.5],[2001.48,10],[2001.51,11],[2001.56,12.5],[2001.59,12.7],[2001.63,8.5],[2001.66,2.5],[2001.69,1.5],[2004.11,1],[2004.18,0.8],[2004.26,1.5],[2004.33,3],[2004.38,5],[2004.41,7],[2004.45,9],[2004.51,10],[2004.55,11.5],[2004.6,10],[2004.66,9],[2004.7,8],[2004.75,7],[2004.78,6],[2004.85,5],[2004.93,2],[2004.97,1]];

var oldyoungLine = [[2000.0,0],[2000.04,0],[2000.1,2],[2000.14,1.5],[2000.18,3],[2000.21,5],[2000.24,8.7],[2000.28,5],[2000.32,4],[2000.35,8.5],[2000.39,5],[2000.46,4],[2000.52,5],[2000.6,3],[2000.7,2],[2000.77,1],[2000.84,0],[2000.91,0.5],[2000.98,0],[2001.12,0],[2001.16,1],[2001.21,2],[2001.26,3],[2001.3,5],[2001.35,7.2],[2001.39,4],[2001.44,5],[2001.49,4.5],[2001.58,3],[2001.63,2],[2001.72,1],[2001.77,0.5],[2001.85,0],[2001.95,0.5],[2002.02,0],[2002.16,1],[2002.23,2],[2002.3,3],[2002.37,4],[2002.44,5],[2002.51,6],[2002.58,9],[2002.62,7],[2002.66,9],[2002.72,6],[2002.79,3],[2002.86,2],[2002.93,1],[2002.97,0.5]];
var oldyoungObs = [[2000.03,0.5],[2000.06,1.5],[2000.1,2],[2000.14,3],[2000.18,3.5],[2000.24,4],[2000.28,4.5],[2000.32,5],[2000.38,4],[2000.42,4.5],[2000.46,3.5],[2000.52,3],[2000.57,2.5],[2000.63,2],[2000.7,1.5],[2000.77,0.8],[2000.84,0.3],[2000.98,0.3],[2001.07,0.5],[2001.12,1],[2001.19,2],[2001.23,2.5],[2001.3,3.5],[2001.35,4],[2001.39,4.5],[2001.46,3.5],[2001.53,3],[2001.63,2],[2001.72,1.5],[2001.81,0.5],[2001.88,0.3],[2002.02,0.5],[2002.13,1],[2002.19,2],[2002.27,2.5],[2002.33,3.5],[2002.41,4.5],[2002.48,5],[2002.55,4.5],[2002.61,3.5],[2002.65,3],[2002.72,2.5],[2002.79,2],[2002.86,1.5],[2002.93,1],[2002.97,0.5]];

var uci1930Line = [[2001.51,7.5],[2001.55,9],[2001.6,8],[2001.63,5],[2001.67,5.5],[2001.7,3],[2001.74,1],[2001.76,0.2],[2001.8,0],[2001.95,0],[2002.08,0],[2002.3,null],[2002.49,9.8],[2002.52,9],[2002.56,4],[2002.59,5],[2002.62,2],[2002.66,1],[2002.71,0],[2002.9,0],[2003.1,0],[2003.22,0],[2003.26,2],[2003.29,5.8],[2003.32,0],[2003.42,null],[2003.54,8],[2003.58,7.5],[2003.6,3],[2003.64,4],[2003.67,1],[2003.73,0],[2003.9,0],[2004.11,0],[2004.17,1],[2004.21,3],[2004.26,6.5],[2004.3,3],[2004.34,4],[2004.39,10.3],[2004.43,5],[2004.47,3],[2004.52,4.5],[2004.59,2],[2004.65,1],[2004.72,0]];
var uci1930Obs = [[2001.51,3.2],[2001.55,4.7],[2001.57,3.5],[2001.61,3],[2001.67,2],[2001.72,1],[2001.76,0.3],[2001.89,0.2],[2001.95,0.3],[2002.02,0.2],[2002.46,3.7],[2002.5,3],[2002.54,2.5],[2002.59,2],[2002.65,1],[2002.71,0.5],[2002.78,0.3],[2002.84,0.2],[2003.22,0.8],[2003.26,1.5],[2003.29,2.5],[2003.52,3],[2003.57,2.7],[2003.6,1],[2003.67,0.5],[2003.73,0.3],[2003.86,0.2],[2003.98,0.2],[2004.08,0.3],[2004.15,0.5],[2004.2,1],[2004.24,2],[2004.3,3.5],[2004.37,3.5],[2004.41,4],[2004.46,3.5],[2004.5,3],[2004.57,2.5],[2004.63,2],[2004.69,0.5]];

var blackhillLine = [[2004.0,0.3],[2004.06,0],[2004.13,0.5],[2004.19,1],[2004.23,1.5],[2004.25,2],[2004.31,2.5],[2004.35,3],[2004.4,4],[2004.44,3.5],[2004.48,4.5],[2004.5,3],[2004.56,5],[2004.6,3],[2004.63,4],[2004.69,3],[2004.75,2],[2004.81,1.5],[2004.9,0.5],[2004.98,0],[2005.06,0],[2005.13,1],[2005.19,1],[2005.25,2],[2005.31,3],[2005.38,4],[2005.44,5.5],[2005.48,6],[2005.53,4.5],[2005.56,4],[2005.6,3.5],[2005.63,4.5],[2005.69,3],[2005.75,3.5],[2005.81,2],[2005.88,1],[2005.94,0],[2006.0,0.5],[2006.06,0],[2006.13,0.5],[2006.19,1],[2006.25,2],[2006.31,3],[2006.44,3.5],[2006.56,3.7],[2006.63,3.5],[2006.73,3],[2006.78,2.5],[2006.84,1.5],[2006.9,0.5],[2006.97,0]];
var blackhillObs = [[2004.03,0.5],[2004.06,0.3],[2004.1,1],[2004.15,0.5],[2004.19,1.5],[2004.23,2],[2004.25,2.5],[2004.29,3.5],[2004.31,4],[2004.35,4.5],[2004.38,5.5],[2004.41,6.3],[2004.44,5],[2004.48,4.5],[2004.5,4],[2004.53,5.5],[2004.56,6],[2004.6,4],[2004.63,2],[2004.66,0.8],[2004.81,2.5],[2004.85,1.5],[2004.9,1.3],[2004.98,0.5],[2005.03,0.3],[2005.1,1],[2005.15,1.5],[2005.19,2.5],[2005.23,3.5],[2005.28,4],[2005.31,4.5],[2005.35,5],[2005.4,5.8],[2005.44,7],[2005.48,5],[2005.53,4],[2005.6,3],[2005.63,2],[2005.69,1.5],[2005.73,3],[2005.75,2.8],[2005.81,2.5],[2005.88,1],[2005.94,0.3],[2006.06,0.3],[2006.13,0.5],[2006.19,1],[2006.25,1.5],[2006.38,2.5],[2006.44,2.3],[2006.5,3],[2006.56,3.5],[2006.63,3.2],[2006.69,3],[2006.75,2],[2006.81,1.5],[2006.88,1],[2006.94,0.5],[2006.99,0.2]];

var rainfedLine = [[2001.51,8.5],[2001.54,8],[2001.57,9],[2001.62,7],[2001.66,5],[2001.71,2],[2001.78,0.5],[2001.95,0.3],[2002.15,0.3],[2002.25,0.5],[2002.32,1],[2002.38,3],[2002.44,6],[2002.51,8],[2002.6,11],[2002.65,10],[2002.71,6],[2002.78,2],[2002.84,0.5],[2003.05,0.3],[2003.35,0.3],[2003.39,1],[2003.41,3],[2003.45,6],[2003.5,8],[2003.54,10.5],[2003.58,8],[2003.64,6],[2003.69,3],[2003.77,1],[2003.86,0.3],[2004.1,0.3],[2004.3,0.3],[2004.37,2],[2004.43,5],[2004.49,8],[2004.58,12.5],[2004.63,10],[2004.68,7],[2004.75,3],[2004.81,1],[2004.9,0.3],[2004.97,0.2]];
var rainfedObs = [[2001.49,16],[2001.51,18],[2001.54,19],[2001.57,21],[2001.59,17],[2001.62,14],[2001.64,13.5],[2001.68,9.5],[2001.71,6.5],[2001.73,4],[2001.76,1.5],[2001.79,0.5],[2001.9,0.2],[2002.0,0.2],[2002.1,0.3],[2002.2,0.2],[2002.27,0.5],[2002.33,1],[2002.4,2],[2002.43,3.5],[2002.48,5],[2002.51,9.5],[2002.55,11],[2002.6,11.5],[2002.62,11],[2002.65,10.5],[2002.69,4.5],[2002.75,1],[2002.8,0.3],[2002.9,0.2],[2003.0,0.2],[2003.1,0.3],[2003.2,0.2],[2003.29,0.2],[2003.35,0.5],[2003.39,1],[2003.41,2],[2003.48,16],[2003.5,18],[2003.51,20],[2003.54,19],[2003.56,17],[2003.6,12],[2003.64,6],[2003.69,2],[2003.73,0.5],[2003.79,0.3],[2003.86,0.2],[2003.98,0.3],[2004.1,0.2],[2004.22,0.3],[2004.3,0.2],[2004.37,1],[2004.43,2.5],[2004.58,12.5],[2004.62,12],[2004.65,12.3],[2004.68,9],[2004.75,2],[2004.81,0.5],[2004.94,0.3]];

var uci1981Line = [[2002.65,4],[2002.7,9],[2002.73,4],[2002.76,6],[2002.78,2],[2002.81,1],[2002.86,0.3],[2002.92,0],[2003.0,null],[2003.14,0],[2003.2,3],[2003.26,6]];
var uci1981Obs = [[2002.05,0],[2002.11,0],[2002.16,0],[2002.22,0],[2002.27,0],[2002.63,3.8],[2002.67,4.5],[2002.7,5],[2002.73,3],[2002.76,2],[2002.79,1],[2002.83,0.3],[2002.88,0.2],[2003.12,0.5],[2003.15,1.5],[2003.18,2.8],[2003.23,3.5]];

var fortdixLine = [[2005.6,4.3],[2005.64,2],[2005.69,1.5],[2005.77,0.5],[2005.84,1],[2005.88,0.3],[2005.93,1.3],[2006.0,0.5],[2006.07,1],[2006.13,2],[2006.2,4],[2006.27,6],[2006.33,8.3],[2006.37,7.5],[2006.43,9],[2006.49,8],[2006.6,7],[2006.73,5],[2006.89,2.5]];
var fortdixObs = [[2005.6,1.9],[2005.64,1.2],[2005.69,0.8],[2005.77,0.4],[2005.87,0.2],[2005.93,0.3],[2006.0,0.5],[2006.07,0.8],[2006.13,1.2],[2006.2,2],[2006.24,3],[2006.27,3.8],[2006.31,5],[2006.36,4],[2006.4,4.2],[2006.47,5.5],[2006.53,6],[2006.89,1.4]];

var lethLine = [[2000.06,0.1],[2000.13,0.2],[2000.19,0.5],[2000.26,0.8],[2000.32,1.2],[2000.39,1.5],[2000.43,1.65],[2000.48,1.3],[2000.52,0.5],[2000.58,0.1],[2000.65,0.5],[2000.69,0.9],[2000.74,0.5],[2000.77,0.8],[2000.84,0.3],[2000.9,0.1],[2001.0,0],[2001.1,0],[2001.16,0.1],[2001.23,0.3],[2001.29,0.6],[2001.33,0.8],[2001.38,1],[2001.45,1.2],[2001.49,1.1],[2001.53,0.5],[2001.59,0.3],[2001.68,0.3],[2001.74,0.4]];
var lethObs = [[2000.06,0.1],[2000.13,0.3],[2000.19,0.5],[2000.26,1],[2000.3,1.4],[2000.32,2.8],[2000.35,3.3],[2000.36,2.7],[2000.39,3],[2000.41,2.6],[2000.45,1.5],[2000.49,0.5],[2000.55,0.3],[2000.58,0.2],[2000.62,0.5],[2000.66,1],[2000.71,0.8],[2000.75,0.5],[2000.81,0.3],[2000.9,0.1],[2001.1,0.2],[2001.16,0.1],[2001.23,0.3],[2001.27,0.7],[2001.3,1.3],[2001.33,2.3],[2001.38,3.3],[2001.4,3.2],[2001.42,3.4],[2001.46,2.5],[2001.51,1.5],[2001.55,0.5],[2001.59,0.2],[2001.68,0.1],[2001.77,0.1]];

var irrigLine = [[2001.44,4.5],[2001.5,10],[2001.54,13.5],[2001.6,10],[2001.63,9],[2001.69,6],[2001.75,2],[2001.82,0.5],[2002.05,0.3],[2002.32,0.3],[2002.38,1],[2002.42,5],[2002.46,10],[2002.51,13.5],[2002.55,10],[2002.61,8],[2002.67,3],[2002.74,1],[2002.82,0.3],[2003.1,0.3],[2003.33,0.3],[2003.39,2],[2003.43,5],[2003.48,10],[2003.52,12],[2003.55,10],[2003.62,6],[2003.68,2],[2003.74,0.5],[2004.0,0.3],[2004.27,0.3],[2004.33,2],[2004.4,5],[2004.5,11],[2004.56,9],[2004.62,6],[2004.69,2],[2004.75,0.5],[2004.9,0.3],[2004.97,0.3]];
var irrigObs = [[2001.4,0.5],[2001.44,2],[2001.5,18],[2001.53,19],[2001.57,19.5],[2001.6,17],[2001.63,16.5],[2001.65,14.5],[2001.69,9.5],[2001.72,6.5],[2001.75,4],[2001.79,1],[2001.84,0.5],[2001.95,0.3],[2002.05,0.2],[2002.15,0.3],[2002.25,0.2],[2002.38,0.5],[2002.42,6],[2002.46,14.5],[2002.48,21],[2002.51,20],[2002.53,19],[2002.56,18],[2002.58,16.5],[2002.61,15],[2002.64,14.5],[2002.66,8],[2002.7,2],[2002.74,0.5],[2002.85,0.2],[2002.95,0.3],[2003.05,0.2],[2003.15,0.3],[2003.25,0.2],[2003.39,0.5],[2003.43,7.5],[2003.45,14.5],[2003.48,19],[2003.5,19.5],[2003.53,20],[2003.55,18.5],[2003.6,11.5],[2003.64,7.5],[2003.67,6],[2003.7,3],[2003.74,1],[2003.79,0.3],[2003.9,0.2],[2004.0,0.3],[2004.1,0.2],[2004.2,0.3],[2004.33,0.5],[2004.42,15.5],[2004.46,20],[2004.5,19],[2004.52,16.5],[2004.56,17],[2004.58,12.5],[2004.62,9],[2004.65,4],[2004.69,1.5],[2004.75,0.5],[2004.84,0.3],[2004.92,0.2]];

var austinLine = [[2005.0,4.2],[2005.03,2],[2005.07,2.5],[2005.1,3],[2005.15,3.5],[2005.2,5],[2005.24,7.5],[2005.27,5.5],[2005.3,8],[2005.32,6],[2005.36,9],[2005.38,6.5],[2005.41,9.3],[2005.44,6],[2005.49,6.5],[2005.55,6],[2005.6,7],[2005.64,6.5],[2005.68,5.5],[2005.72,5],[2005.77,4],[2005.81,3.5],[2005.85,3],[2005.89,3.8],[2005.94,3],[2005.98,3.5],[2006.02,2.8],[2006.06,3.5],[2006.11,4.5],[2006.15,4],[2006.19,5],[2006.23,5.5],[2006.32,6.8],[2006.45,6.5],[2006.53,6.2],[2006.57,5.5],[2006.62,8.2],[2006.66,5],[2006.7,6],[2006.74,4.5],[2006.79,5],[2006.83,4],[2006.87,3],[2006.91,4.5],[2006.96,4],[2006.98,4.2]];
var austinObs = [[2005.0,2],[2005.03,1.5],[2005.07,2],[2005.09,2.5],[2005.13,3],[2005.15,3.5],[2005.19,4.5],[2005.21,5.5],[2005.26,6],[2005.27,4],[2005.3,5],[2005.34,4.5],[2005.37,6],[2005.41,5],[2005.43,4.5],[2005.47,6],[2005.51,6.5],[2005.55,6],[2005.6,5.5],[2005.68,5],[2005.72,4.5],[2005.81,3],[2005.85,2.8],[2005.88,2.5],[2005.89,2],[2005.94,1.5],[2005.96,2],[2005.98,2.5],[2006.02,3],[2006.06,3.5],[2006.11,3.8],[2006.15,4],[2006.45,6.5],[2006.57,5.5],[2006.62,6],[2006.66,5],[2006.7,5.5],[2006.79,4.5],[2006.87,4],[2006.91,3.5],[2006.96,4]];

var winmaredLine = [[2004.38,0.5],[2004.42,3],[2004.47,6],[2004.51,8],[2004.54,9],[2004.59,10.2],[2004.63,8],[2004.67,6],[2004.72,5.5],[2004.76,6],[2004.8,4],[2004.85,2],[2004.89,0.5],[2004.92,0],[2005.1,null],[2005.24,7],[2005.29,7.5],[2005.33,7],[2005.39,8],[2005.46,7.5],[2005.52,10.2],[2005.56,7],[2005.61,7.5],[2005.67,6],[2005.73,5],[2005.8,3],[2005.84,1.2]];
var winmaredObs = [[2004.38,1.3],[2004.42,3.8],[2004.46,6.3],[2004.48,8.2],[2004.51,10.6],[2004.54,9],[2004.58,8.5],[2004.63,9.3],[2004.66,7.5],[2004.7,6],[2004.73,5.5],[2004.76,7.5],[2004.78,6],[2004.82,3.5],[2004.86,2.3],[2004.89,1.8],[2005.27,4],[2005.37,7],[2005.42,7.3],[2005.46,7.5],[2005.49,8.5],[2005.52,9],[2005.56,7.5],[2005.59,7],[2005.65,6],[2005.71,5],[2005.75,4],[2005.8,3.5],[2005.84,2]];

var wetzLine = [[2002.06,0],[2002.13,1],[2002.19,1.5],[2002.26,1.5],[2002.32,3],[2002.39,5],[2002.43,6],[2002.48,7.5],[2002.52,8],[2002.55,9],[2002.58,8],[2002.65,6],[2002.71,4],[2002.77,2],[2002.81,1],[2002.86,0.5],[2002.9,0],[2003.03,0],[2003.1,1],[2003.16,2],[2003.23,4],[2003.29,6],[2003.33,7],[2003.39,8],[2003.46,7],[2003.51,6],[2003.59,4],[2003.68,2],[2003.77,0.5],[2003.85,0]];
var wetzObs = [[2002.04,0.5],[2002.09,1],[2002.13,1.5],[2002.19,1.5],[2002.26,2],[2002.3,3.5],[2002.35,4.5],[2002.39,5.5],[2002.41,6],[2002.45,7.5],[2002.48,8],[2002.49,11.2],[2002.53,9.5],[2002.55,8.5],[2002.59,8],[2002.63,8],[2002.67,7],[2002.71,4],[2002.74,3.5],[2002.77,2.5],[2002.81,1.5],[2002.86,0.5],[2002.9,0.3],[2002.99,0.2],[2003.07,0.5],[2003.12,1.5],[2003.15,2.5],[2003.17,4],[2003.2,5],[2003.23,6.5],[2003.26,8],[2003.29,8.5],[2003.33,9],[2003.35,8.7],[2003.39,7.5],[2003.43,7],[2003.48,6],[2003.54,5],[2003.59,3.5],[2003.64,2.5],[2003.69,1.5],[2003.74,1],[2003.79,0.5],[2003.85,0.3]];

var parcoLine = [[2003.04,0],[2003.1,0.3],[2003.17,1],[2003.21,2],[2003.26,3.5],[2003.29,5],[2003.33,6],[2003.38,5],[2003.42,5.5],[2003.49,5],[2003.55,4],[2003.62,3],[2003.68,1.5],[2003.74,0.5],[2003.81,0.3],[2003.87,0]];
var parcoObs = [[2003.04,0.2],[2003.1,0.5],[2003.14,1],[2003.18,2],[2003.23,4.8],[2003.26,9.5],[2003.29,10],[2003.32,9],[2003.36,9.8],[2003.38,11.3],[2003.41,10.5],[2003.44,10.3],[2003.46,8],[2003.49,7.7],[2003.51,8.5],[2003.54,9],[2003.55,7.2],[2003.59,5],[2003.62,5.2],[2003.64,3.5],[2003.67,3],[2003.69,2.5],[2003.74,1],[2003.81,0.5],[2003.87,0.3],[2003.94,0.2]];

// ---- panel definitions (name, year span, y max / step) ----
var siteNames = ['Umichigan','Hesse','Dukehardwood','Niwotridge','Bondville','Blodgett','MonteBondone','Meadirrrotate','Donaldson','Indianammsf','Nonantola','Vairaranch','Uci1998','LeBray','Canaanvalley','Metoliusmidpine','Tonziranch','Burn99','Control','Hainich','Walkerbrach','Metoliusoldyoung','Uci1930','Blackhill','Meadrainfed','Uci1981','Fortdix','Lethbridge','Meadirrigated','Austincary','Winmared','Wetzstein','ParcoTicino'];
var yearSpan = [[2000,2007],[2000,2004],[2001,2006],[2000,2005],[2002,2007],[2001,2005],[2003,2004],[2001,2005],[2000,2004],[2000,2003],[2001,2003],[2001,2007],[2002,2006],[2000,2004],[2004,2005],[2002,2006],[2002,2007],[2002,2005],[2002,2005],[2000,2004],[2000,2005],[2000,2003],[2001,2005],[2004,2007],[2001,2005],[2002,2004],[2005,2007],[2000,2002],[2001,2005],[2005,2007],[2004,2006],[2002,2004],[2003,2004]];
var yScale = [[20,4],[18,3],[15,3],[12,3],[18,6],[9,3],[15,3],[25,5],[15,5],[20,5],[16,4],[12,3],[8,2],[15,5],[10,2],[15,5],[8,2],[6,2],[6,2],[16,4],[15,5],[9,3],[12,3],[8,2],[25,5],[12,3],[9,3],[4,2],[25,5],[10,2],[12,3],[12,3],[12,3]];
var modelSeries = [umichiganLine,hesseLine,dukeLine,niwotLine,bondvilleLine,blodgettLine,monteLine,rotateLine,donaldsonLine,indianaLine,nonantolaLine,vairaLine,uci1998Line,lebrayLine,canaanLine,midpineLine,tonziLine,burn99Line,controlLine,hainichLine,walkerLine,oldyoungLine,uci1930Line,blackhillLine,rainfedLine,uci1981Line,fortdixLine,lethLine,irrigLine,austinLine,winmaredLine,wetzLine,parcoLine];
var obsSeries = [umichiganObs,hesseObs,dukeObs,niwotObs,bondvilleObs,blodgettObs,monteObs,rotateObs,donaldsonObs,indianaObs,nonantolaObs,vairaObs,uci1998Obs,lebrayObs,canaanObs,midpineObs,tonziObs,burn99Obs,controlObs,hainichObs,walkerObs,oldyoungObs,uci1930Obs,blackhillObs,rainfedObs,uci1981Obs,fortdixObs,lethObs,irrigObs,austinObs,winmaredObs,wetzObs,parcoObs];

// ---- layout (pixels) ----
var rowTop    = [31, 234, 438, 634, 841, 1044, 1245, 1444];
var rowBottom = [147, 349, 553, 754, 955, 1159, 1362, 1564];
var rowTitle  = [18, 214, 422, 618, 825, 1027, 1232, 1430];
var panelRow  = [0,0,0, 1,1,1,1, 2,2,2,2, 3,3,3,3, 4,4,4,4, 5,5,5,5, 6,6,6,6,6, 7,7,7,7,7];
var panelLR = [[71,501],[559,804],[840,1146],
  [73,388],[436,741],[802,1023],[1091,1148],
  [71,318],[397,647],[726,908],[1007,1138],
  [73,423],[480,713],[773,1002],[1049,1117],
  [75,313],[371,647],[720,872],[938,1086],
  [75,313],[350,616],[653,844],[900,1148],
  [75,277],[329,559],[647,773],[856,945],[1018,1138],
  [75,318],[371,527],[616,731],[840,966],[1075,1128]];
// year labels sit left of / under the tick depending on the panel
var labelAlign = ['right','right','center', 'right','right','right','right',
  'center','center','center','center', 'center','center','center','center',
  'right','right','center','center', 'right','center','center','center',
  'center','center','center','center','center', 'center','center','center','center','center'];
// Hesse has seven tight y labels, so its font is a little smaller
var yFontSize = [21,16,21, 21,21,21,21, 21,21,21,21, 21,21,21,21, 21,21,21,21, 21,21,21,21, 21,21,21,21,21, 21,21,21,21,21];

var FONT = "'Liberation Serif', 'DejaVu Serif', serif";

function gapFix(arr) {
  return arr.map(function (p) { return p[1] === null ? [p[0], '-'] : p; });
}
function tickValues(max, step) {
  var out = [];
  for (var v = 0; v <= max + 1e-9; v += step) out.push(v);
  return out;
}

var chart = echarts.init(document.getElementById('chart'), null, {renderer: 'canvas'});
var grids = [], xAxes = [], yAxes = [], series = [], graphics = [];

for (var i = 0; i < siteNames.length; i++) {
  var r = panelRow[i];
  var L = panelLR[i][0], R = panelLR[i][1];
  var T = rowTop[r], B = rowBottom[r];
  var yTicks = tickValues(yScale[i][0], yScale[i][1]);
  grids.push({left: L, top: T, width: R - L, height: B - T, show: true,
    borderColor: '#000', borderWidth: 1, backgroundColor: 'transparent', containLabel: false});

  // bottom axis with year labels
  xAxes.push({gridIndex: i, type: 'value', position: 'bottom',
    min: yearSpan[i][0], max: yearSpan[i][1], interval: 1,
    axisLine: {show: true, onZero: false, lineStyle: {color: '#808080', width: 2}},
    axisTick: {show: true, length: 4, lineStyle: {color: '#000', width: 1}},
    splitLine: {show: false},
    axisLabel: {show: true, showMinLabel: true, showMaxLabel: true, hideOverlap: false, margin: 7,
      align: labelAlign[i], color: '#000', fontFamily: FONT, fontSize: 21, lineHeight: 18,
      formatter: function (v) { return String(Math.round(v)); }}
  });
  // top border line (grey, like the bottom one)
  xAxes.push({gridIndex: i, type: 'value', position: 'top',
    min: yearSpan[i][0], max: yearSpan[i][1],
    axisLine: {show: true, onZero: false, lineStyle: {color: '#808080', width: 2}},
    axisTick: {show: false}, axisLabel: {show: false}, splitLine: {show: false}
  });
  yAxes.push({gridIndex: i, type: 'value', min: 0, max: yScale[i][0], interval: yScale[i][1],
    axisLine: {show: true, onZero: false, lineStyle: {color: '#000', width: 1}},
    axisTick: {show: true, length: 3, lineStyle: {color: '#000'}, customValues: yTicks},
    splitLine: {show: false},
    axisLabel: {show: true, customValues: yTicks, showMinLabel: true, showMaxLabel: true,
      hideOverlap: false, margin: 6, color: '#000', fontFamily: FONT,
      fontSize: yFontSize[i], lineHeight: 12}
  });

  series.push({type: 'scatter', xAxisIndex: 2 * i, yAxisIndex: i, data: obsSeries[i],
    symbol: 'circle', symbolSize: 8, clip: true, z: 2,
    itemStyle: {color: 'rgba(255,255,255,0)', borderColor: '#3a3a3a', borderWidth: 1}
  });
  series.push({type: 'line', xAxisIndex: 2 * i, yAxisIndex: i, data: gapFix(modelSeries[i]),
    showSymbol: false, symbol: 'none', connectNulls: false, clip: true, z: 3,
    lineStyle: {color: '#000', width: 2}
  });

  // panel title
  var cx = (L + R) / 2;
  var ta = 'center';
  if (siteNames[i] === 'MonteBondone') { cx = 1158; ta = 'right'; }
  graphics.push({type: 'text', x: cx, y: rowTitle[r], scaleY: 1.12, z: 10,
    style: {text: siteNames[i], fill: '#000', fontFamily: FONT, fontSize: 21,
      textAlign: ta, align: ta, textVerticalAlign: 'middle', verticalAlign: 'middle'}});
}

// axis titles
graphics.push({type: 'text', x: 580, y: 1624, scaleY: 1.12, z: 10,
  style: {text: 'Year', fill: '#000', fontFamily: FONT, fontSize: 21,
    textAlign: 'center', align: 'center', textVerticalAlign: 'middle', verticalAlign: 'middle'}});
graphics.push({type: 'text', x: 23, y: 819, rotation: Math.PI / 2, scaleX: 1.3, z: 10,
  style: {text: '{n|GPP(g C m}{s|-2}{n| day}{s|-1}{n|)}', fill: '#000',
    textAlign: 'center', align: 'center', textVerticalAlign: 'middle', verticalAlign: 'middle',
    rich: {
      n: {fontFamily: FONT, fontSize: 21, lineHeight: 26, verticalAlign: 'bottom'},
      s: {fontFamily: FONT, fontSize: 14, lineHeight: 14, verticalAlign: 'top'}
    }}});

chart.setOption({
  animation: false,
  backgroundColor: '#fff',
  grid: grids,
  xAxis: xAxes,
  yAxis: yAxes,
  series: series,
  graphic: graphics
});
</script>
</body>
</html>
